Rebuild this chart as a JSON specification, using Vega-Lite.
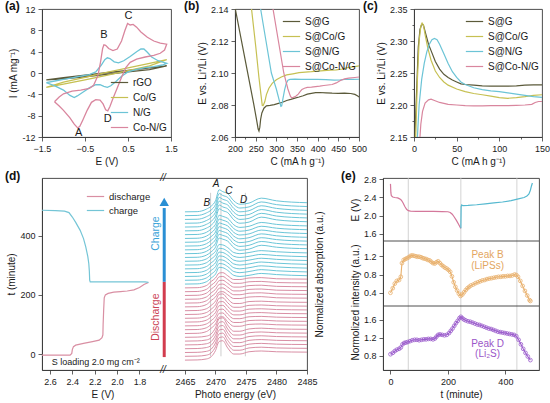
{
  "$schema": "https://vega.github.io/schema/vega-lite/v6.json",
  "padding": {"left": 4, "top": -1, "right": 0, "bottom": 0},
  "spacing": 2,
  "resolve": {"scale": {"color": "independent"}, "legend": {"color": "independent"}},
  "config": {
    "font": "Liberation Sans",
    "view": {"stroke": "#3a3a3a", "strokeWidth": 0.9},
    "axis": {"labelFont": "Liberation Sans", "labelFontSize": 9, "labelColor": "#1a1a1a", "titleFont": "Liberation Sans", "titleFontSize": 10, "titleFontWeight": "normal", "titleColor": "#1a1a1a", "domainColor": "#3a3a3a", "tickColor": "#3a3a3a", "domainWidth": 0.9, "tickWidth": 0.8, "grid": false, "tickSize": 4, "labelPadding": 3, "titlePadding": 3, "labelOverlap": false, "labelFlush": false},
    "legend": {"labelFont": "Liberation Sans", "labelFontSize": 10, "labelColor": "#1a1a1a", "symbolType": "stroke", "symbolSize": 300, "symbolStrokeWidth": 1.5, "rowPadding": 0, "padding": 0, "labelOffset": 4},
    "title": {"font": "Liberation Sans", "fontSize": 12, "fontWeight": "bold", "color": "#111111", "anchor": "start", "frame": "group", "baseline": "alphabetic", "offset": 0},
    "text": {"font": "Liberation Sans", "color": "#1a1a1a"},
    "line": {"strokeWidth": 1.2}
  },
  "vconcat": [
    {
      "spacing": 0,
      "bounds": "flush",
      "resolve": {"scale": {"color": "independent"}, "legend": {"color": "independent"}},
      "hconcat": [
        {
          "width": 129, "height": 128,
          "title": {"text": "(a)", "dx": -37, "dy": 8, "offset": 0},
          "resolve": {"axis": {"y": "independent"}},
          "layer": [
            {
              "data": {"values": [
                {"s":"rGO","i":0,"E":-1.4,"I":-1.3},{"s":"rGO","i":1,"E":-1.0,"I":-0.85},{"s":"rGO","i":2,"E":-0.5,"I":-0.4},{"s":"rGO","i":3,"E":0,"I":0.05},{"s":"rGO","i":4,"E":0.5,"I":0.5},{"s":"rGO","i":5,"E":1.0,"I":0.95},{"s":"rGO","i":6,"E":1.4,"I":1.35},{"s":"rGO","i":7,"E":1.0,"I":0.65},{"s":"rGO","i":8,"E":0.5,"I":0.2},{"s":"rGO","i":9,"E":0,"I":-0.25},{"s":"rGO","i":10,"E":-0.5,"I":-0.7},{"s":"rGO","i":11,"E":-1.0,"I":-1.1},{"s":"rGO","i":12,"E":-1.4,"I":-1.3},
                {"s":"Co/G","i":0,"E":-1.4,"I":-2.7},{"s":"Co/G","i":1,"E":-1.0,"I":-1.7},{"s":"Co/G","i":2,"E":-0.5,"I":-0.8},{"s":"Co/G","i":3,"E":0,"I":0.1},{"s":"Co/G","i":4,"E":0.5,"I":0.95},{"s":"Co/G","i":5,"E":1.0,"I":1.8},{"s":"Co/G","i":6,"E":1.4,"I":2.5},{"s":"Co/G","i":7,"E":1.0,"I":1.35},{"s":"Co/G","i":8,"E":0.5,"I":0.45},{"s":"Co/G","i":9,"E":0,"I":-0.45},{"s":"Co/G","i":10,"E":-0.5,"I":-1.3},{"s":"Co/G","i":11,"E":-1.0,"I":-2.1},{"s":"Co/G","i":12,"E":-1.4,"I":-2.7},
                {"s":"N/G","i":0,"E":-1.4,"I":-1.8},{"s":"N/G","i":1,"E":-1.2,"I":-1.5},{"s":"N/G","i":2,"E":-1.0,"I":-1.2},{"s":"N/G","i":3,"E":-0.8,"I":-0.9},{"s":"N/G","i":4,"E":-0.6,"I":-0.6},{"s":"N/G","i":5,"E":-0.4,"I":-0.3},{"s":"N/G","i":6,"E":-0.25,"I":0.2},{"s":"N/G","i":7,"E":-0.12,"I":1.5},{"s":"N/G","i":8,"E":-0.04,"I":2.5},{"s":"N/G","i":9,"E":0.02,"I":2.85},{"s":"N/G","i":10,"E":0.08,"I":2.7},{"s":"N/G","i":11,"E":0.18,"I":2.1},{"s":"N/G","i":12,"E":0.28,"I":1.9},{"s":"N/G","i":13,"E":0.4,"I":2.3},{"s":"N/G","i":14,"E":0.55,"I":3.1},{"s":"N/G","i":15,"E":0.7,"I":4.0},{"s":"N/G","i":16,"E":0.8,"I":4.5},{"s":"N/G","i":17,"E":0.87,"I":4.5},{"s":"N/G","i":18,"E":0.95,"I":3.9},{"s":"N/G","i":19,"E":1.05,"I":3.0},{"s":"N/G","i":20,"E":1.2,"I":2.3},{"s":"N/G","i":21,"E":1.4,"I":1.8},{"s":"N/G","i":22,"E":1.3,"I":1.5},{"s":"N/G","i":23,"E":1.1,"I":1.2},{"s":"N/G","i":24,"E":0.9,"I":1.0},{"s":"N/G","i":25,"E":0.7,"I":0.7},{"s":"N/G","i":26,"E":0.5,"I":0.2},{"s":"N/G","i":27,"E":0.35,"I":-0.6},{"s":"N/G","i":28,"E":0.22,"I":-1.6},{"s":"N/G","i":29,"E":0.1,"I":-2.4},{"s":"N/G","i":30,"E":0.02,"I":-2.7},{"s":"N/G","i":31,"E":-0.06,"I":-2.5},{"s":"N/G","i":32,"E":-0.15,"I":-2.2},{"s":"N/G","i":33,"E":-0.25,"I":-2.2},{"s":"N/G","i":34,"E":-0.4,"I":-2.8},{"s":"N/G","i":35,"E":-0.55,"I":-3.6},{"s":"N/G","i":36,"E":-0.68,"I":-4.3},{"s":"N/G","i":37,"E":-0.75,"I":-4.6},{"s":"N/G","i":38,"E":-0.85,"I":-4.2},{"s":"N/G","i":39,"E":-1.0,"I":-3.2},{"s":"N/G","i":40,"E":-1.2,"I":-2.4},{"s":"N/G","i":41,"E":-1.4,"I":-1.8},
                {"s":"Co-N/G","i":0,"E":-1.21,"I":-5.4},{"s":"Co-N/G","i":1,"E":-1.1,"I":-4.5},{"s":"Co-N/G","i":2,"E":-1.0,"I":-3.9},{"s":"Co-N/G","i":3,"E":-0.8,"I":-3.4},{"s":"Co-N/G","i":4,"E":-0.6,"I":-3.2},{"s":"Co-N/G","i":5,"E":-0.4,"I":-2.9},{"s":"Co-N/G","i":6,"E":-0.3,"I":-2.3},{"s":"Co-N/G","i":7,"E":-0.2,"I":-0.5},{"s":"Co-N/G","i":8,"E":-0.14,"I":2.0},{"s":"Co-N/G","i":9,"E":-0.09,"I":4.6},{"s":"Co-N/G","i":10,"E":-0.06,"I":5.3},{"s":"Co-N/G","i":11,"E":-0.02,"I":5.2},{"s":"Co-N/G","i":12,"E":0.05,"I":4.6},{"s":"Co-N/G","i":13,"E":0.15,"I":4.2},{"s":"Co-N/G","i":14,"E":0.25,"I":4.5},{"s":"Co-N/G","i":15,"E":0.35,"I":6.0},{"s":"Co-N/G","i":16,"E":0.43,"I":8.0},{"s":"Co-N/G","i":17,"E":0.49,"I":9.3},{"s":"Co-N/G","i":18,"E":0.55,"I":9.0},{"s":"Co-N/G","i":19,"E":0.62,"I":9.1},{"s":"Co-N/G","i":20,"E":0.7,"I":8.6},{"s":"Co-N/G","i":21,"E":0.8,"I":7.7},{"s":"Co-N/G","i":22,"E":0.95,"I":6.7},{"s":"Co-N/G","i":23,"E":1.1,"I":6.0},{"s":"Co-N/G","i":24,"E":1.25,"I":5.6},{"s":"Co-N/G","i":25,"E":1.4,"I":5.4},{"s":"Co-N/G","i":26,"E":1.35,"I":4.3},{"s":"Co-N/G","i":27,"E":1.25,"I":3.7},{"s":"Co-N/G","i":28,"E":1.1,"I":3.3},{"s":"Co-N/G","i":29,"E":0.9,"I":3.0},{"s":"Co-N/G","i":30,"E":0.7,"I":2.6},{"s":"Co-N/G","i":31,"E":0.55,"I":2.0},{"s":"Co-N/G","i":32,"E":0.45,"I":1.0},{"s":"Co-N/G","i":33,"E":0.35,"I":-0.8},{"s":"Co-N/G","i":34,"E":0.25,"I":-2.8},{"s":"Co-N/G","i":35,"E":0.15,"I":-4.8},{"s":"Co-N/G","i":36,"E":0.08,"I":-6.3},{"s":"Co-N/G","i":37,"E":0.03,"I":-7.1},{"s":"Co-N/G","i":38,"E":-0.02,"I":-6.9},{"s":"Co-N/G","i":39,"E":-0.08,"I":-5.8},{"s":"Co-N/G","i":40,"E":-0.15,"I":-5.1},{"s":"Co-N/G","i":41,"E":-0.25,"I":-5.0},{"s":"Co-N/G","i":42,"E":-0.35,"I":-5.5},{"s":"Co-N/G","i":43,"E":-0.45,"I":-7.0},{"s":"Co-N/G","i":44,"E":-0.55,"I":-8.8},{"s":"Co-N/G","i":45,"E":-0.62,"I":-10.0},{"s":"Co-N/G","i":46,"E":-0.67,"I":-10.3},{"s":"Co-N/G","i":47,"E":-0.75,"I":-9.6},{"s":"Co-N/G","i":48,"E":-0.85,"I":-8.4},{"s":"Co-N/G","i":49,"E":-1.0,"I":-7.0},{"s":"Co-N/G","i":50,"E":-1.1,"I":-6.2},{"s":"Co-N/G","i":51,"E":-1.21,"I":-5.4}
              ]},
              "mark": {"type": "line", "strokeWidth": 1.3},
              "encoding": {
                "x": {"field": "E", "type": "quantitative", "scale": {"domain": [-1.5, 1.5], "nice": false, "zero": false},
                  "axis": {"title": "E (V)", "labelOverlap": false, "values": [-1.5,-1.25,-1,-0.75,-0.5,-0.25,0,0.25,0.5,0.75,1,1.25,1.5], "format": ".1f", "labelExpr": "datum.value % 0.5 === 0 ? datum.label : ''", "tickSize": {"condition": {"test": "datum.value % 0.5 === 0", "value": 4}, "value": 2}}},
                "y": {"field": "I", "type": "quantitative", "scale": {"domain": [-12, 12], "nice": false, "zero": false},
                  "axis": {"orient": "left", "title": "I (mA mg⁻¹)", "labelOverlap": false, "values": [-12,-4,4,12], "labelExpr": "(datum.value < 0 ? '-' : '') + abs(datum.value)"}},
                "color": {"field": "s", "type": "nominal", "scale": {"domain": ["rGO", "Co/G", "N/G", "Co-N/G"], "range": ["#5b5a3a", "#c6c052", "#6cc4d6", "#d9869e"]}, "legend": {"title": null, "orient": "bottom-right", "offset": 4}},
                "order": {"field": "i", "type": "quantitative"}
              }
            },
            {
              "data": {"values": [{"p":"A","E":-0.65,"I":-11.3},{"p":"B","E":-0.06,"I":7.1},{"p":"C","E":0.51,"I":10.7},{"p":"D","E":0.03,"I":-8.6}]},
              "mark": {"type": "text", "fontSize": 11},
              "encoding": {
                "x": {"field": "E", "type": "quantitative", "scale": {"domain": [-1.5, 1.5], "nice": false, "zero": false}},
                "y": {"field": "I", "type": "quantitative", "scale": {"domain": [-12, 12], "nice": false, "zero": false},
                  "axis": {"orient": "left", "title": null, "domain": false, "labelOverlap": false, "values": [-8,0,8], "labelExpr": "(datum.value < 0 ? '-' : '') + abs(datum.value)"}},
                "text": {"field": "p"}
              }
            }
          ]
        },
        {"width": 64, "height": 128, "data": {"values": []}, "mark": "point", "view": {"stroke": null}},
        {
          "width": 124, "height": 128,
          "title": {"text": "(b)", "dx": -51, "dy": 8, "offset": 0},
          "data": {"values": [
            {"s":"S@G","C":200,"V":2.141},{"s":"S@G","C":215,"V":2.121},{"s":"S@G","C":230,"V":2.101},{"s":"S@G","C":245,"V":2.081},{"s":"S@G","C":252,"V":2.071},{"s":"S@G","C":256,"V":2.065},{"s":"S@G","C":258,"V":2.0637},{"s":"S@G","C":260,"V":2.066},{"s":"S@G","C":262,"V":2.071},{"s":"S@G","C":265,"V":2.075},{"s":"S@G","C":270,"V":2.078},{"s":"S@G","C":276,"V":2.0795},{"s":"S@G","C":285,"V":2.0798},{"s":"S@G","C":295,"V":2.0802},{"s":"S@G","C":305,"V":2.081},{"s":"S@G","C":315,"V":2.0817},{"s":"S@G","C":325,"V":2.0828},{"s":"S@G","C":335,"V":2.0835},{"s":"S@G","C":345,"V":2.0843},{"s":"S@G","C":355,"V":2.085},{"s":"S@G","C":365,"V":2.0858},{"s":"S@G","C":375,"V":2.0868},{"s":"S@G","C":385,"V":2.0873},{"s":"S@G","C":395,"V":2.0877},{"s":"S@G","C":405,"V":2.0878},{"s":"S@G","C":420,"V":2.0876},{"s":"S@G","C":435,"V":2.0874},{"s":"S@G","C":450,"V":2.0873},{"s":"S@G","C":465,"V":2.0874},{"s":"S@G","C":480,"V":2.0872},{"s":"S@G","C":490,"V":2.0866},{"s":"S@G","C":497,"V":2.0856},{"s":"S@G","C":500,"V":2.085},
            {"s":"S@Co/G","C":240,"V":2.14},{"s":"S@Co/G","C":250,"V":2.117},{"s":"S@Co/G","C":258,"V":2.097},{"s":"S@Co/G","C":263,"V":2.086},{"s":"S@Co/G","C":266,"V":2.0797},{"s":"S@Co/G","C":268,"V":2.0796},{"s":"S@Co/G","C":272,"V":2.082},{"s":"S@Co/G","C":276,"V":2.0865},{"s":"S@Co/G","C":282,"V":2.0905},{"s":"S@Co/G","C":290,"V":2.0935},{"s":"S@Co/G","C":300,"V":2.0958},{"s":"S@Co/G","C":312,"V":2.0975},{"s":"S@Co/G","C":325,"V":2.0988},{"s":"S@Co/G","C":340,"V":2.0995},{"s":"S@Co/G","C":355,"V":2.1002},{"s":"S@Co/G","C":370,"V":2.1005},{"s":"S@Co/G","C":385,"V":2.1008},{"s":"S@Co/G","C":400,"V":2.1012},{"s":"S@Co/G","C":415,"V":2.1015},{"s":"S@Co/G","C":430,"V":2.1018},{"s":"S@Co/G","C":445,"V":2.102},{"s":"S@Co/G","C":460,"V":2.1025},{"s":"S@Co/G","C":475,"V":2.1035},{"s":"S@Co/G","C":490,"V":2.104},{"s":"S@Co/G","C":500,"V":2.1045},
            {"s":"S@N/G","C":262,"V":2.14},{"s":"S@N/G","C":275,"V":2.12},{"s":"S@N/G","C":288,"V":2.1},{"s":"S@N/G","C":300,"V":2.09},{"s":"S@N/G","C":308,"V":2.082},{"s":"S@N/G","C":311,"V":2.0792},{"s":"S@N/G","C":313,"V":2.0795},{"s":"S@N/G","C":316,"V":2.084},{"s":"S@N/G","C":320,"V":2.0895},{"s":"S@N/G","C":324,"V":2.0935},{"s":"S@N/G","C":328,"V":2.0955},{"s":"S@N/G","C":333,"V":2.096},{"s":"S@N/G","C":345,"V":2.0962},{"s":"S@N/G","C":360,"V":2.096},{"s":"S@N/G","C":380,"V":2.0961},{"s":"S@N/G","C":400,"V":2.096},{"s":"S@N/G","C":420,"V":2.0958},{"s":"S@N/G","C":440,"V":2.0955},{"s":"S@N/G","C":455,"V":2.0957},{"s":"S@N/G","C":470,"V":2.0961},{"s":"S@N/G","C":485,"V":2.096},{"s":"S@N/G","C":500,"V":2.0961},
            {"s":"S@Co-N/G","C":292,"V":2.14},{"s":"S@Co-N/G","C":305,"V":2.12},{"s":"S@Co-N/G","C":318,"V":2.1},{"s":"S@Co-N/G","C":328,"V":2.09},{"s":"S@Co-N/G","C":334,"V":2.0855},{"s":"S@Co-N/G","C":337,"V":2.0845},{"s":"S@Co-N/G","C":341,"V":2.0848},{"s":"S@Co-N/G","C":347,"V":2.0855},{"s":"S@Co-N/G","C":353,"V":2.0868},{"s":"S@Co-N/G","C":358,"V":2.0885},{"s":"S@Co-N/G","C":362,"V":2.0897},{"s":"S@Co-N/G","C":368,"V":2.0905},{"s":"S@Co-N/G","C":375,"V":2.091},{"s":"S@Co-N/G","C":385,"V":2.0912},{"s":"S@Co-N/G","C":395,"V":2.0915},{"s":"S@Co-N/G","C":405,"V":2.0918},{"s":"S@Co-N/G","C":415,"V":2.0922},{"s":"S@Co-N/G","C":425,"V":2.0925},{"s":"S@Co-N/G","C":435,"V":2.0928},{"s":"S@Co-N/G","C":445,"V":2.0938},{"s":"S@Co-N/G","C":455,"V":2.0953},{"s":"S@Co-N/G","C":465,"V":2.0963},{"s":"S@Co-N/G","C":475,"V":2.0968},{"s":"S@Co-N/G","C":490,"V":2.0972},{"s":"S@Co-N/G","C":500,"V":2.0975}
          ]},
          "mark": {"type": "line", "strokeWidth": 1.2, "clip": true},
          "encoding": {
            "x": {"field": "C", "type": "quantitative", "scale": {"domain": [200, 500], "nice": false, "zero": false},
              "axis": {"title": "C (mA h g⁻¹)", "labelOverlap": false, "values": [200,225,250,275,300,325,350,375,400,425,450,475,500], "labelExpr": "datum.value % 50 === 0 ? datum.label : ''", "tickSize": {"condition": {"test": "datum.value % 50 === 0", "value": 4}, "value": 2}}},
            "y": {"field": "V", "type": "quantitative", "scale": {"domain": [2.06, 2.14], "nice": false, "zero": false},
              "axis": {"title": "E vs. Li⁺/Li (V)", "labelOverlap": false, "values": [2.06,2.08,2.1,2.12,2.14], "format": ".2f"}},
            "color": {"field": "s", "type": "nominal", "scale": {"domain": ["S@G", "S@Co/G", "S@N/G", "S@Co-N/G"], "range": ["#5b5a3a", "#c6c052", "#6cc4d6", "#d9869e"]}, "legend": {"title": null, "orient": "top-right", "offset": 3}}
          }
        },
        {"width": 55, "height": 128, "data": {"values": []}, "mark": "point", "view": {"stroke": null}},
        {
          "width": 128, "height": 128,
          "title": {"text": "(c)", "dx": -51, "dy": 8, "offset": 0},
          "data": {"values": [
            {"s":"S@G","C":1,"V":2.15},{"s":"S@G","C":3,"V":2.22},{"s":"S@G","C":5,"V":2.29},{"s":"S@G","C":7,"V":2.318},{"s":"S@G","C":9,"V":2.326},{"s":"S@G","C":11,"V":2.325},{"s":"S@G","C":14,"V":2.31},{"s":"S@G","C":17,"V":2.295},{"s":"S@G","C":20,"V":2.285},{"s":"S@G","C":25,"V":2.268},{"s":"S@G","C":30,"V":2.256},{"s":"S@G","C":35,"V":2.248},{"s":"S@G","C":40,"V":2.243},{"s":"S@G","C":45,"V":2.239},{"s":"S@G","C":50,"V":2.236},{"s":"S@G","C":55,"V":2.233},{"s":"S@G","C":60,"V":2.232},{"s":"S@G","C":70,"V":2.231},{"s":"S@G","C":80,"V":2.23},{"s":"S@G","C":90,"V":2.2295},{"s":"S@G","C":100,"V":2.2295},{"s":"S@G","C":110,"V":2.2295},{"s":"S@G","C":120,"V":2.23},{"s":"S@G","C":130,"V":2.231},{"s":"S@G","C":140,"V":2.2315},{"s":"S@G","C":150,"V":2.2315},
            {"s":"S@Co/G","C":2,"V":2.15},{"s":"S@Co/G","C":4,"V":2.24},{"s":"S@Co/G","C":6,"V":2.3},{"s":"S@Co/G","C":8,"V":2.323},{"s":"S@Co/G","C":9.5,"V":2.328},{"s":"S@Co/G","C":11,"V":2.325},{"s":"S@Co/G","C":13,"V":2.31},{"s":"S@Co/G","C":16,"V":2.29},{"s":"S@Co/G","C":20,"V":2.27},{"s":"S@Co/G","C":25,"V":2.253},{"s":"S@Co/G","C":30,"V":2.243},{"s":"S@Co/G","C":35,"V":2.236},{"s":"S@Co/G","C":40,"V":2.231},{"s":"S@Co/G","C":50,"V":2.225},{"s":"S@Co/G","C":60,"V":2.221},{"s":"S@Co/G","C":70,"V":2.218},{"s":"S@Co/G","C":80,"V":2.216},{"s":"S@Co/G","C":90,"V":2.214},{"s":"S@Co/G","C":100,"V":2.2115},{"s":"S@Co/G","C":110,"V":2.2105},{"s":"S@Co/G","C":120,"V":2.2115},{"s":"S@Co/G","C":130,"V":2.213},{"s":"S@Co/G","C":140,"V":2.215},{"s":"S@Co/G","C":150,"V":2.216},
            {"s":"S@N/G","C":4,"V":2.15},{"s":"S@N/G","C":6,"V":2.2},{"s":"S@N/G","C":9,"V":2.24},{"s":"S@N/G","C":12,"V":2.265},{"s":"S@N/G","C":15,"V":2.283},{"s":"S@N/G","C":18,"V":2.295},{"s":"S@N/G","C":21,"V":2.302},{"s":"S@N/G","C":24,"V":2.304},{"s":"S@N/G","C":27,"V":2.302},{"s":"S@N/G","C":30,"V":2.295},{"s":"S@N/G","C":35,"V":2.28},{"s":"S@N/G","C":40,"V":2.265},{"s":"S@N/G","C":45,"V":2.252},{"s":"S@N/G","C":50,"V":2.243},{"s":"S@N/G","C":55,"V":2.236},{"s":"S@N/G","C":60,"V":2.232},{"s":"S@N/G","C":70,"V":2.227},{"s":"S@N/G","C":80,"V":2.224},{"s":"S@N/G","C":90,"V":2.222},{"s":"S@N/G","C":100,"V":2.221},{"s":"S@N/G","C":110,"V":2.219},{"s":"S@N/G","C":120,"V":2.217},{"s":"S@N/G","C":130,"V":2.215},{"s":"S@N/G","C":140,"V":2.213},{"s":"S@N/G","C":150,"V":2.212},
            {"s":"S@Co-N/G","C":7,"V":2.15},{"s":"S@Co-N/G","C":8,"V":2.17},{"s":"S@Co-N/G","C":10,"V":2.19},{"s":"S@Co-N/G","C":13,"V":2.203},{"s":"S@Co-N/G","C":17,"V":2.208},{"s":"S@Co-N/G","C":20,"V":2.209},{"s":"S@Co-N/G","C":24,"V":2.207},{"s":"S@Co-N/G","C":30,"V":2.204},{"s":"S@Co-N/G","C":40,"V":2.201},{"s":"S@Co-N/G","C":50,"V":2.2},{"s":"S@Co-N/G","C":60,"V":2.199},{"s":"S@Co-N/G","C":70,"V":2.1985},{"s":"S@Co-N/G","C":80,"V":2.1985},{"s":"S@Co-N/G","C":90,"V":2.199},{"s":"S@Co-N/G","C":100,"V":2.199},{"s":"S@Co-N/G","C":110,"V":2.199},{"s":"S@Co-N/G","C":120,"V":2.1995},{"s":"S@Co-N/G","C":130,"V":2.2},{"s":"S@Co-N/G","C":138,"V":2.201},{"s":"S@Co-N/G","C":142,"V":2.204},{"s":"S@Co-N/G","C":146,"V":2.2055},{"s":"S@Co-N/G","C":150,"V":2.2055}
          ]},
          "mark": {"type": "line", "strokeWidth": 1.2, "clip": true},
          "encoding": {
            "x": {"field": "C", "type": "quantitative", "scale": {"domain": [0, 150], "nice": false, "zero": false},
              "axis": {"title": "C (mA h g⁻¹)", "labelOverlap": false, "values": [0,25,50,75,100,125,150], "labelExpr": "datum.value % 50 === 0 ? datum.label : ''", "tickSize": {"condition": {"test": "datum.value % 50 === 0", "value": 4}, "value": 2}}},
            "y": {"field": "V", "type": "quantitative", "scale": {"domain": [2.15, 2.35], "nice": false, "zero": false},
              "axis": {"title": "E vs. Li⁺/Li (V)", "labelOverlap": false, "values": [2.15,2.175,2.2,2.225,2.25,2.275,2.3,2.325,2.35], "format": ".2f", "labelExpr": "round(datum.value*1000) % 50 === 0 ? datum.label : ''", "tickSize": {"condition": {"test": "round(datum.value*1000) % 50 === 0", "value": 4}, "value": 2}}},
            "color": {"field": "s", "type": "nominal", "scale": {"domain": ["S@G", "S@Co/G", "S@N/G", "S@Co-N/G"], "range": ["#5b5a3a", "#c6c052", "#6cc4d6", "#d9869e"]}, "legend": {"title": null, "orient": "top-right", "offset": 3}}
          }
        }
      ]
    },
    {
      "spacing": 0,
      "bounds": "flush",
      "resolve": {"scale": {"color": "independent"}, "legend": {"color": "independent"}},
      "hconcat": [
        {
          "width": 265, "height": 192,
          "title": {"text": "(d)", "dx": -37, "dy": 10, "offset": 0},
          "resolve": {"scale": {"x": "independent", "y": "independent", "color": "independent"}, "axis": {"x": "independent", "y": "independent"}, "legend": {"color": "independent"}},
          "layer": [
            {
              "layer": [
                {
                  "data": {"values": [
                    {"ph":"discharge","i":0,"E":2.671,"t":-4},{"ph":"discharge","i":1,"E":2.42,"t":-4},{"ph":"discharge","i":2,"E":2.405,"t":2},{"ph":"discharge","i":3,"E":2.4,"t":15},{"ph":"discharge","i":4,"E":2.39,"t":25},{"ph":"discharge","i":5,"E":2.37,"t":30},{"ph":"discharge","i":6,"E":2.3,"t":36},{"ph":"discharge","i":7,"E":2.22,"t":42},{"ph":"discharge","i":8,"E":2.16,"t":47},{"ph":"discharge","i":9,"E":2.135,"t":55},{"ph":"discharge","i":10,"E":2.127,"t":65},{"ph":"discharge","i":11,"E":2.125,"t":100},{"ph":"discharge","i":12,"E":2.12,"t":150},{"ph":"discharge","i":13,"E":2.115,"t":190},{"ph":"discharge","i":14,"E":2.105,"t":200},{"ph":"discharge","i":15,"E":2.08,"t":205},{"ph":"discharge","i":16,"E":2.03,"t":209},{"ph":"discharge","i":17,"E":1.97,"t":211},{"ph":"discharge","i":18,"E":1.91,"t":213},{"ph":"discharge","i":19,"E":1.85,"t":217},{"ph":"discharge","i":20,"E":1.8,"t":225},{"ph":"discharge","i":21,"E":1.76,"t":235},{"ph":"discharge","i":22,"E":1.72,"t":242},
                    {"ph":"charge","i":0,"E":1.72,"t":242},{"ph":"charge","i":1,"E":1.75,"t":244},{"ph":"charge","i":2,"E":2.24,"t":244},{"ph":"charge","i":3,"E":2.245,"t":250},{"ph":"charge","i":4,"E":2.248,"t":280},{"ph":"charge","i":5,"E":2.253,"t":306},{"ph":"charge","i":6,"E":2.262,"t":330},{"ph":"charge","i":7,"E":2.28,"t":362},{"ph":"charge","i":8,"E":2.3,"t":390},{"ph":"charge","i":9,"E":2.33,"t":418},{"ph":"charge","i":10,"E":2.37,"t":445},{"ph":"charge","i":11,"E":2.4,"t":463},{"ph":"charge","i":12,"E":2.43,"t":478},{"ph":"charge","i":13,"E":2.47,"t":483},{"ph":"charge","i":14,"E":2.55,"t":485},{"ph":"charge","i":15,"E":2.671,"t":486}
                  ]},
                  "mark": {"type": "line", "strokeWidth": 1.2},
                  "encoding": {
                    "x": {"field": "E", "type": "quantitative", "scale": {"domain": [2.671, 1.59], "range": [0, 121], "nice": false, "zero": false},
                      "axis": {"orient": "bottom", "title": "E (V)", "labelOverlap": false, "values": [2.6,2.5,2.4,2.3,2.2,2.1,2.0,1.9,1.8,1.7], "format": ".1f", "labelExpr": "round(datum.value*10) % 2 === 0 ? datum.label : ''", "tickSize": {"condition": {"test": "round(datum.value*10) % 2 === 0", "value": 4}, "value": 2}}},
                    "y": {"field": "t", "type": "quantitative", "scale": {"domain": [-54, 595], "nice": false, "zero": false},
                      "axis": {"orient": "left", "title": "t (minute)", "labelOverlap": false, "values": [0,100,200,300,400,500]}},
                    "color": {"field": "ph", "type": "nominal", "scale": {"domain": ["discharge", "charge"], "range": ["#d98fa3", "#74c5d6"]}, "legend": {"title": null, "orient": "none", "legendX": 44, "legendY": 9, "labelFontSize": 9.5}},
                    "order": {"field": "i", "type": "quantitative"}
                  }
                },
                {
                  "data": {"values": [{"E": 1.59, "t": 595}, {"E": 1.59, "t": -54}]},
                  "mark": {"type": "text", "text": "//", "fontSize": 10, "fontStyle": "italic", "baseline": "middle"},
                  "encoding": {
                    "x": {"field": "E", "type": "quantitative", "scale": {"domain": [2.671, 1.59], "range": [0, 121], "nice": false, "zero": false}},
                    "y": {"field": "t", "type": "quantitative", "scale": {"domain": [-54, 595], "nice": false, "zero": false}}
                  }
                },
                {
                  "data": {"values": [{"E": 2.19, "t": -28, "l": "S loading 2.0 mg cm⁻²"}]},
                  "mark": {"type": "text", "fontSize": 9},
                  "encoding": {
                    "x": {"field": "E", "type": "quantitative", "scale": {"domain": [2.671, 1.59], "range": [0, 121], "nice": false, "zero": false}},
                    "y": {"field": "t", "type": "quantitative", "scale": {"domain": [-54, 595], "nice": false, "zero": false}},
                    "text": {"field": "l"}
                  }
                }
              ]
            },
            {
              "layer": [
                {
                  "data": {"values": [{"e": 2469.2}, {"e": 2470.9}, {"e": 2474.9}]},
                  "mark": {"type": "rule", "color": "#b8b8b8", "strokeWidth": 0.7},
                  "encoding": {
                    "x": {"field": "e", "type": "quantitative", "scale": {"domain": [2461.4, 2485], "range": [121, 265], "nice": false, "zero": false}},
                    "y": {"datum": 1, "type": "quantitative", "scale": {"domain": [-2.6, 47.9], "nice": false, "zero": false}},
                    "y2": {"datum": 44}
                  }
                },
                {
                  "data": {"values": [
                    {"k":0,"e":2465,"a":0},{"k":0,"e":2467,"a":0.05},{"k":0,"e":2468.5,"a":0.3},{"k":0,"e":2469.3,"a":0.9},{"k":0,"e":2470,"a":2.5},{"k":0,"e":2470.6,"a":4.9},{"k":0,"e":2471.2,"a":5.1},{"k":0,"e":2472,"a":3.2},{"k":0,"e":2473,"a":1.6},{"k":0,"e":2474,"a":1.6},{"k":0,"e":2475.5,"a":2.2},{"k":0,"e":2477.5,"a":2.4},{"k":0,"e":2480,"a":2.2},{"k":0,"e":2485,"a":2.1},
                    {"k":1,"e":2465,"a":1},{"k":1,"e":2467,"a":1.05},{"k":1,"e":2468.5,"a":1.3},{"k":1,"e":2469.3,"a":1.9},{"k":1,"e":2470,"a":3.5},{"k":1,"e":2470.6,"a":5.9},{"k":1,"e":2471.2,"a":6.1},{"k":1,"e":2472,"a":4.2},{"k":1,"e":2473,"a":2.6},{"k":1,"e":2474,"a":2.6},{"k":1,"e":2475.5,"a":3.2},{"k":1,"e":2477.5,"a":3.4},{"k":1,"e":2480,"a":3.2},{"k":1,"e":2485,"a":3.1},
                    {"k":2,"e":2465,"a":2},{"k":2,"e":2467,"a":2.05},{"k":2,"e":2468.5,"a":2.3},{"k":2,"e":2469.3,"a":2.9},{"k":2,"e":2470,"a":4.5},{"k":2,"e":2470.6,"a":6.9},{"k":2,"e":2471.2,"a":7.1},{"k":2,"e":2472,"a":5.2},{"k":2,"e":2473,"a":3.6},{"k":2,"e":2474,"a":3.6},{"k":2,"e":2475.5,"a":4.2},{"k":2,"e":2477.5,"a":4.4},{"k":2,"e":2480,"a":4.2},{"k":2,"e":2485,"a":4.1},
                    {"k":3,"e":2465,"a":3},{"k":3,"e":2467,"a":3.05},{"k":3,"e":2468.5,"a":3.3},{"k":3,"e":2469.3,"a":3.9},{"k":3,"e":2470,"a":5.5},{"k":3,"e":2470.6,"a":7.9},{"k":3,"e":2471.2,"a":8.1},{"k":3,"e":2472,"a":6.2},{"k":3,"e":2473,"a":4.6},{"k":3,"e":2474,"a":4.6},{"k":3,"e":2475.5,"a":5.2},{"k":3,"e":2477.5,"a":5.4},{"k":3,"e":2480,"a":5.2},{"k":3,"e":2485,"a":5.1},
                    {"k":4,"e":2465,"a":4},{"k":4,"e":2467,"a":4.05},{"k":4,"e":2468.5,"a":4.3},{"k":4,"e":2469.3,"a":4.9},{"k":4,"e":2470,"a":6.5},{"k":4,"e":2470.6,"a":8.9},{"k":4,"e":2471.2,"a":9.1},{"k":4,"e":2472,"a":7.2},{"k":4,"e":2473,"a":5.6},{"k":4,"e":2474,"a":5.6},{"k":4,"e":2475.5,"a":6.2},{"k":4,"e":2477.5,"a":6.4},{"k":4,"e":2480,"a":6.2},{"k":4,"e":2485,"a":6.1},
                    {"k":5,"e":2465,"a":5},{"k":5,"e":2467,"a":5.05},{"k":5,"e":2468.5,"a":5.3},{"k":5,"e":2469.3,"a":5.9},{"k":5,"e":2470,"a":7.5},{"k":5,"e":2470.6,"a":9.9},{"k":5,"e":2471.2,"a":10.1},{"k":5,"e":2472,"a":8.2},{"k":5,"e":2473,"a":6.6},{"k":5,"e":2474,"a":6.6},{"k":5,"e":2475.5,"a":7.2},{"k":5,"e":2477.5,"a":7.4},{"k":5,"e":2480,"a":7.2},{"k":5,"e":2485,"a":7.1},
                    {"k":6,"e":2465,"a":6},{"k":6,"e":2467,"a":6.05},{"k":6,"e":2468.5,"a":6.3},{"k":6,"e":2469.3,"a":6.9},{"k":6,"e":2470,"a":8.5},{"k":6,"e":2470.6,"a":10.9},{"k":6,"e":2471.2,"a":11.1},{"k":6,"e":2472,"a":9.2},{"k":6,"e":2473,"a":7.6},{"k":6,"e":2474,"a":7.6},{"k":6,"e":2475.5,"a":8.2},{"k":6,"e":2477.5,"a":8.4},{"k":6,"e":2480,"a":8.2},{"k":6,"e":2485,"a":8.1},
                    {"k":7,"e":2465,"a":7},{"k":7,"e":2467,"a":7.05},{"k":7,"e":2468.5,"a":7.5},{"k":7,"e":2469.3,"a":8.4},{"k":7,"e":2470,"a":9.5},{"k":7,"e":2470.6,"a":11.3},{"k":7,"e":2471.2,"a":11.4},{"k":7,"e":2472,"a":10.1},{"k":7,"e":2473,"a":8.9},{"k":7,"e":2474,"a":8.9},{"k":7,"e":2475.5,"a":9.4},{"k":7,"e":2477.5,"a":9.5},{"k":7,"e":2480,"a":9.3},{"k":7,"e":2485,"a":9.2},
                    {"k":8,"e":2465,"a":8},{"k":8,"e":2467,"a":8.05},{"k":8,"e":2468.5,"a":8.5},{"k":8,"e":2469.3,"a":9.4},{"k":8,"e":2470,"a":10.5},{"k":8,"e":2470.6,"a":12.3},{"k":8,"e":2471.2,"a":12.4},{"k":8,"e":2472,"a":11.1},{"k":8,"e":2473,"a":9.9},{"k":8,"e":2474,"a":9.9},{"k":8,"e":2475.5,"a":10.4},{"k":8,"e":2477.5,"a":10.5},{"k":8,"e":2480,"a":10.3},{"k":8,"e":2485,"a":10.2},
                    {"k":9,"e":2465,"a":9},{"k":9,"e":2467,"a":9.05},{"k":9,"e":2468.5,"a":9.5},{"k":9,"e":2469.3,"a":10.4},{"k":9,"e":2470,"a":11.5},{"k":9,"e":2470.6,"a":13.3},{"k":9,"e":2471.2,"a":13.4},{"k":9,"e":2472,"a":12.1},{"k":9,"e":2473,"a":10.9},{"k":9,"e":2474,"a":10.9},{"k":9,"e":2475.5,"a":11.4},{"k":9,"e":2477.5,"a":11.5},{"k":9,"e":2480,"a":11.3},{"k":9,"e":2485,"a":11.2},
                    {"k":10,"e":2465,"a":10},{"k":10,"e":2467,"a":10.05},{"k":10,"e":2468.5,"a":10.5},{"k":10,"e":2469.3,"a":11.4},{"k":10,"e":2470,"a":12.5},{"k":10,"e":2470.6,"a":14.3},{"k":10,"e":2471.2,"a":14.4},{"k":10,"e":2472,"a":13.1},{"k":10,"e":2473,"a":11.9},{"k":10,"e":2474,"a":11.9},{"k":10,"e":2475.5,"a":12.4},{"k":10,"e":2477.5,"a":12.5},{"k":10,"e":2480,"a":12.3},{"k":10,"e":2485,"a":12.2},
                    {"k":11,"e":2465,"a":11},{"k":11,"e":2467,"a":11.05},{"k":11,"e":2468.5,"a":11.5},{"k":11,"e":2469.3,"a":12.4},{"k":11,"e":2470,"a":13.5},{"k":11,"e":2470.6,"a":15.3},{"k":11,"e":2471.2,"a":15.4},{"k":11,"e":2472,"a":14.1},{"k":11,"e":2473,"a":12.9},{"k":11,"e":2474,"a":12.9},{"k":11,"e":2475.5,"a":13.4},{"k":11,"e":2477.5,"a":13.5},{"k":11,"e":2480,"a":13.3},{"k":11,"e":2485,"a":13.2},
                    {"k":12,"e":2465,"a":12},{"k":12,"e":2467,"a":12.05},{"k":12,"e":2468.5,"a":12.5},{"k":12,"e":2469.3,"a":13.4},{"k":12,"e":2470,"a":14.5},{"k":12,"e":2470.6,"a":16.3},{"k":12,"e":2471.2,"a":16.4},{"k":12,"e":2472,"a":15.1},{"k":12,"e":2473,"a":13.9},{"k":12,"e":2474,"a":13.9},{"k":12,"e":2475.5,"a":14.4},{"k":12,"e":2477.5,"a":14.5},{"k":12,"e":2480,"a":14.3},{"k":12,"e":2485,"a":14.2},
                    {"k":13,"e":2465,"a":13},{"k":13,"e":2467,"a":13.05},{"k":13,"e":2468.5,"a":13.5},{"k":13,"e":2469.3,"a":14.4},{"k":13,"e":2470,"a":15.5},{"k":13,"e":2470.6,"a":17.3},{"k":13,"e":2471.2,"a":17.4},{"k":13,"e":2472,"a":16.1},{"k":13,"e":2473,"a":14.9},{"k":13,"e":2474,"a":14.9},{"k":13,"e":2475.5,"a":15.4},{"k":13,"e":2477.5,"a":15.5},{"k":13,"e":2480,"a":15.3},{"k":13,"e":2485,"a":15.2},
                    {"k":14,"e":2465,"a":14},{"k":14,"e":2467,"a":14.05},{"k":14,"e":2468.5,"a":14.6},{"k":14,"e":2469.3,"a":15.7},{"k":14,"e":2470,"a":16.6},{"k":14,"e":2470.6,"a":17.9},{"k":14,"e":2471.2,"a":18},{"k":14,"e":2472,"a":17.2},{"k":14,"e":2473,"a":16.2},{"k":14,"e":2474,"a":16.2},{"k":14,"e":2475.5,"a":16.6},{"k":14,"e":2477.5,"a":16.7},{"k":14,"e":2480,"a":16.4},{"k":14,"e":2485,"a":16.3},
                    {"k":15,"e":2465,"a":15},{"k":15,"e":2467,"a":15.05},{"k":15,"e":2468.5,"a":15.6},{"k":15,"e":2469.3,"a":16.7},{"k":15,"e":2470,"a":17.6},{"k":15,"e":2470.6,"a":18.9},{"k":15,"e":2471.2,"a":19},{"k":15,"e":2472,"a":18.2},{"k":15,"e":2473,"a":17.2},{"k":15,"e":2474,"a":17.2},{"k":15,"e":2475.5,"a":17.6},{"k":15,"e":2477.5,"a":17.7},{"k":15,"e":2480,"a":17.4},{"k":15,"e":2485,"a":17.3},
                    {"k":16,"e":2465,"a":16},{"k":16,"e":2467,"a":16.05},{"k":16,"e":2468.5,"a":16.6},{"k":16,"e":2469.3,"a":17.7},{"k":16,"e":2470,"a":18.6},{"k":16,"e":2470.6,"a":19.9},{"k":16,"e":2471.2,"a":20},{"k":16,"e":2472,"a":19.2},{"k":16,"e":2473,"a":18.2},{"k":16,"e":2474,"a":18.2},{"k":16,"e":2475.5,"a":18.6},{"k":16,"e":2477.5,"a":18.7},{"k":16,"e":2480,"a":18.4},{"k":16,"e":2485,"a":18.3},
                    {"k":17,"e":2465,"a":17},{"k":17,"e":2467,"a":17.05},{"k":17,"e":2468.5,"a":17.6},{"k":17,"e":2469.3,"a":18.7},{"k":17,"e":2470,"a":19.6},{"k":17,"e":2470.6,"a":20.9},{"k":17,"e":2471.2,"a":21},{"k":17,"e":2472,"a":20.2},{"k":17,"e":2473,"a":19.2},{"k":17,"e":2474,"a":19.2},{"k":17,"e":2475.5,"a":19.6},{"k":17,"e":2477.5,"a":19.7},{"k":17,"e":2480,"a":19.4},{"k":17,"e":2485,"a":19.3},
                    {"k":18,"e":2465,"a":18},{"k":18,"e":2467,"a":18.05},{"k":18,"e":2468.5,"a":18.6},{"k":18,"e":2469.3,"a":19.7},{"k":18,"e":2470,"a":20.6},{"k":18,"e":2470.6,"a":21.9},{"k":18,"e":2471.2,"a":22},{"k":18,"e":2472,"a":21.2},{"k":18,"e":2473,"a":20.2},{"k":18,"e":2474,"a":20.2},{"k":18,"e":2475.5,"a":20.6},{"k":18,"e":2477.5,"a":20.7},{"k":18,"e":2480,"a":20.4},{"k":18,"e":2485,"a":20.3},
                    {"k":19,"e":2465,"a":19},{"k":19,"e":2467,"a":19.05},{"k":19,"e":2468.5,"a":19.6},{"k":19,"e":2469.3,"a":20.7},{"k":19,"e":2470,"a":21.6},{"k":19,"e":2470.6,"a":22.9},{"k":19,"e":2471.2,"a":23},{"k":19,"e":2472,"a":22.2},{"k":19,"e":2473,"a":21.2},{"k":19,"e":2474,"a":21.2},{"k":19,"e":2475.5,"a":21.6},{"k":19,"e":2477.5,"a":21.7},{"k":19,"e":2480,"a":21.4},{"k":19,"e":2485,"a":21.3},
                    {"k":20,"e":2465,"a":20},{"k":20,"e":2467,"a":20.05},{"k":20,"e":2468.5,"a":20.6},{"k":20,"e":2469.3,"a":21.6},{"k":20,"e":2470,"a":22.6},{"k":20,"e":2470.6,"a":24.4},{"k":20,"e":2471.2,"a":24.3},{"k":20,"e":2472,"a":23.6},{"k":20,"e":2473,"a":22.3},{"k":20,"e":2474,"a":22},{"k":20,"e":2475.5,"a":22.3},{"k":20,"e":2477.5,"a":22.8},{"k":20,"e":2480,"a":22.5},{"k":20,"e":2485,"a":22.2},
                    {"k":21,"e":2465,"a":21},{"k":21,"e":2467,"a":21.05},{"k":21,"e":2468.5,"a":21.6},{"k":21,"e":2469.3,"a":22.6},{"k":21,"e":2470,"a":23.6},{"k":21,"e":2470.6,"a":25.4},{"k":21,"e":2471.2,"a":25.3},{"k":21,"e":2472,"a":24.6},{"k":21,"e":2473,"a":23.3},{"k":21,"e":2474,"a":23},{"k":21,"e":2475.5,"a":23.3},{"k":21,"e":2477.5,"a":23.8},{"k":21,"e":2480,"a":23.5},{"k":21,"e":2485,"a":23.2},
                    {"k":22,"e":2465,"a":22},{"k":22,"e":2467,"a":22.05},{"k":22,"e":2468.5,"a":22.6},{"k":22,"e":2469.3,"a":23.6},{"k":22,"e":2470,"a":24.6},{"k":22,"e":2470.6,"a":26.4},{"k":22,"e":2471.2,"a":26.3},{"k":22,"e":2472,"a":25.6},{"k":22,"e":2473,"a":24.3},{"k":22,"e":2474,"a":24},{"k":22,"e":2475.5,"a":24.3},{"k":22,"e":2477.5,"a":24.8},{"k":22,"e":2480,"a":24.5},{"k":22,"e":2485,"a":24.2},
                    {"k":23,"e":2465,"a":23},{"k":23,"e":2467,"a":23.05},{"k":23,"e":2468.5,"a":23.6},{"k":23,"e":2469.3,"a":24.6},{"k":23,"e":2470,"a":25.6},{"k":23,"e":2470.6,"a":27.4},{"k":23,"e":2471.2,"a":27.3},{"k":23,"e":2472,"a":26.6},{"k":23,"e":2473,"a":25.3},{"k":23,"e":2474,"a":25},{"k":23,"e":2475.5,"a":25.3},{"k":23,"e":2477.5,"a":25.8},{"k":23,"e":2480,"a":25.5},{"k":23,"e":2485,"a":25.2},
                    {"k":24,"e":2465,"a":24},{"k":24,"e":2467,"a":24.05},{"k":24,"e":2468.5,"a":24.6},{"k":24,"e":2469.3,"a":25.6},{"k":24,"e":2470,"a":26.6},{"k":24,"e":2470.6,"a":28.4},{"k":24,"e":2471.2,"a":28.3},{"k":24,"e":2472,"a":27.6},{"k":24,"e":2473,"a":26.3},{"k":24,"e":2474,"a":26},{"k":24,"e":2475.5,"a":26.3},{"k":24,"e":2477.5,"a":26.8},{"k":24,"e":2480,"a":26.5},{"k":24,"e":2485,"a":26.2},
                    {"k":25,"e":2465,"a":25},{"k":25,"e":2467,"a":25.05},{"k":25,"e":2468.5,"a":25.6},{"k":25,"e":2469.3,"a":26.6},{"k":25,"e":2470,"a":27.6},{"k":25,"e":2470.6,"a":29.4},{"k":25,"e":2471.2,"a":29.3},{"k":25,"e":2472,"a":28.6},{"k":25,"e":2473,"a":27.3},{"k":25,"e":2474,"a":27},{"k":25,"e":2475.5,"a":27.3},{"k":25,"e":2477.5,"a":27.8},{"k":25,"e":2480,"a":27.5},{"k":25,"e":2485,"a":27.2},
                    {"k":26,"e":2465,"a":26},{"k":26,"e":2467,"a":26.05},{"k":26,"e":2468.5,"a":26.6},{"k":26,"e":2469.3,"a":27.6},{"k":26,"e":2470,"a":28.6},{"k":26,"e":2470.6,"a":30.4},{"k":26,"e":2471.2,"a":30.3},{"k":26,"e":2472,"a":29.6},{"k":26,"e":2473,"a":28.3},{"k":26,"e":2474,"a":28},{"k":26,"e":2475.5,"a":28.3},{"k":26,"e":2477.5,"a":28.8},{"k":26,"e":2480,"a":28.5},{"k":26,"e":2485,"a":28.2},
                    {"k":27,"e":2465,"a":27},{"k":27,"e":2467,"a":27.05},{"k":27,"e":2468.5,"a":27.6},{"k":27,"e":2469.3,"a":28.5},{"k":27,"e":2470,"a":29.7},{"k":27,"e":2470.6,"a":32.1},{"k":27,"e":2471.2,"a":31.8},{"k":27,"e":2472,"a":31.3},{"k":27,"e":2473,"a":29.6},{"k":27,"e":2474,"a":28.9},{"k":27,"e":2475.5,"a":29.2},{"k":27,"e":2477.5,"a":30.2},{"k":27,"e":2480,"a":29.7},{"k":27,"e":2485,"a":29.3},
                    {"k":28,"e":2465,"a":28},{"k":28,"e":2467,"a":28.05},{"k":28,"e":2468.5,"a":28.6},{"k":28,"e":2469.3,"a":29.5},{"k":28,"e":2470,"a":30.7},{"k":28,"e":2470.6,"a":33.1},{"k":28,"e":2471.2,"a":32.8},{"k":28,"e":2472,"a":32.3},{"k":28,"e":2473,"a":30.6},{"k":28,"e":2474,"a":29.9},{"k":28,"e":2475.5,"a":30.2},{"k":28,"e":2477.5,"a":31.2},{"k":28,"e":2480,"a":30.7},{"k":28,"e":2485,"a":30.3},
                    {"k":29,"e":2465,"a":29},{"k":29,"e":2467,"a":29.05},{"k":29,"e":2468.5,"a":29.6},{"k":29,"e":2469.3,"a":30.5},{"k":29,"e":2470,"a":31.7},{"k":29,"e":2470.6,"a":34.1},{"k":29,"e":2471.2,"a":33.8},{"k":29,"e":2472,"a":33.3},{"k":29,"e":2473,"a":31.6},{"k":29,"e":2474,"a":30.9},{"k":29,"e":2475.5,"a":31.2},{"k":29,"e":2477.5,"a":32.2},{"k":29,"e":2480,"a":31.7},{"k":29,"e":2485,"a":31.3},
                    {"k":30,"e":2465,"a":30},{"k":30,"e":2467,"a":30.05},{"k":30,"e":2468.5,"a":30.6},{"k":30,"e":2469.3,"a":31.5},{"k":30,"e":2470,"a":32.7},{"k":30,"e":2470.6,"a":35.1},{"k":30,"e":2471.2,"a":34.8},{"k":30,"e":2472,"a":34.3},{"k":30,"e":2473,"a":32.6},{"k":30,"e":2474,"a":31.9},{"k":30,"e":2475.5,"a":32.2},{"k":30,"e":2477.5,"a":33.2},{"k":30,"e":2480,"a":32.7},{"k":30,"e":2485,"a":32.3},
                    {"k":31,"e":2465,"a":31},{"k":31,"e":2467,"a":31.05},{"k":31,"e":2468.5,"a":31.6},{"k":31,"e":2469.3,"a":32.5},{"k":31,"e":2470,"a":33.7},{"k":31,"e":2470.6,"a":36.1},{"k":31,"e":2471.2,"a":35.8},{"k":31,"e":2472,"a":35.3},{"k":31,"e":2473,"a":33.6},{"k":31,"e":2474,"a":32.9},{"k":31,"e":2475.5,"a":33.2},{"k":31,"e":2477.5,"a":34.2},{"k":31,"e":2480,"a":33.7},{"k":31,"e":2485,"a":33.3},
                    {"k":32,"e":2465,"a":32},{"k":32,"e":2467,"a":32.05},{"k":32,"e":2468.5,"a":32.6},{"k":32,"e":2469.3,"a":33.5},{"k":32,"e":2470,"a":34.7},{"k":32,"e":2470.6,"a":37.1},{"k":32,"e":2471.2,"a":36.8},{"k":32,"e":2472,"a":36.3},{"k":32,"e":2473,"a":34.6},{"k":32,"e":2474,"a":33.9},{"k":32,"e":2475.5,"a":34.2},{"k":32,"e":2477.5,"a":35.2},{"k":32,"e":2480,"a":34.7},{"k":32,"e":2485,"a":34.3},
                    {"k":33,"e":2465,"a":33},{"k":33,"e":2467,"a":33.05},{"k":33,"e":2468.5,"a":33.6},{"k":33,"e":2469.3,"a":34.5},{"k":33,"e":2470,"a":35.7},{"k":33,"e":2470.6,"a":38.1},{"k":33,"e":2471.2,"a":37.8},{"k":33,"e":2472,"a":37.3},{"k":33,"e":2473,"a":35.6},{"k":33,"e":2474,"a":34.9},{"k":33,"e":2475.5,"a":35.2},{"k":33,"e":2477.5,"a":36.2},{"k":33,"e":2480,"a":35.7},{"k":33,"e":2485,"a":35.3},
                    {"k":34,"e":2465,"a":34},{"k":34,"e":2467,"a":34.05},{"k":34,"e":2468.5,"a":34.7},{"k":34,"e":2469.3,"a":35.5},{"k":34,"e":2470,"a":36.9},{"k":34,"e":2470.6,"a":39.8},{"k":34,"e":2471.2,"a":39.3},{"k":34,"e":2472,"a":38.8},{"k":34,"e":2473,"a":36.9},{"k":34,"e":2474,"a":36},{"k":34,"e":2475.5,"a":36.3},{"k":34,"e":2477.5,"a":37.6},{"k":34,"e":2480,"a":36.9},{"k":34,"e":2485,"a":36.4},
                    {"k":35,"e":2465,"a":35},{"k":35,"e":2467,"a":35.05},{"k":35,"e":2468.5,"a":35.7},{"k":35,"e":2469.3,"a":36.5},{"k":35,"e":2470,"a":37.9},{"k":35,"e":2470.6,"a":40.8},{"k":35,"e":2471.2,"a":40.3},{"k":35,"e":2472,"a":39.8},{"k":35,"e":2473,"a":37.9},{"k":35,"e":2474,"a":37},{"k":35,"e":2475.5,"a":37.3},{"k":35,"e":2477.5,"a":38.6},{"k":35,"e":2480,"a":37.9},{"k":35,"e":2485,"a":37.4},
                    {"k":36,"e":2465,"a":36},{"k":36,"e":2467,"a":36.05},{"k":36,"e":2468.5,"a":36.7},{"k":36,"e":2469.3,"a":37.5},{"k":36,"e":2470,"a":38.9},{"k":36,"e":2470.6,"a":41.8},{"k":36,"e":2471.2,"a":41.3},{"k":36,"e":2472,"a":40.8},{"k":36,"e":2473,"a":38.9},{"k":36,"e":2474,"a":38},{"k":36,"e":2475.5,"a":38.3},{"k":36,"e":2477.5,"a":39.6},{"k":36,"e":2480,"a":38.9},{"k":36,"e":2485,"a":38.4},
                    {"k":37,"e":2465,"a":37},{"k":37,"e":2467,"a":37.05},{"k":37,"e":2468.5,"a":37.7},{"k":37,"e":2469.3,"a":38.5},{"k":37,"e":2470,"a":39.9},{"k":37,"e":2470.6,"a":42.8},{"k":37,"e":2471.2,"a":42.3},{"k":37,"e":2472,"a":41.8},{"k":37,"e":2473,"a":39.9},{"k":37,"e":2474,"a":39},{"k":37,"e":2475.5,"a":39.3},{"k":37,"e":2477.5,"a":40.6},{"k":37,"e":2480,"a":39.9},{"k":37,"e":2485,"a":39.4},
                    {"k":38,"e":2465,"a":38},{"k":38,"e":2467,"a":38.05},{"k":38,"e":2468.5,"a":38.7},{"k":38,"e":2469.3,"a":39.5},{"k":38,"e":2470,"a":40.9},{"k":38,"e":2470.6,"a":43.8},{"k":38,"e":2471.2,"a":43.3},{"k":38,"e":2472,"a":42.8},{"k":38,"e":2473,"a":40.9},{"k":38,"e":2474,"a":40},{"k":38,"e":2475.5,"a":40.3},{"k":38,"e":2477.5,"a":41.6},{"k":38,"e":2480,"a":40.9},{"k":38,"e":2485,"a":40.4},
                    {"k":39,"e":2465,"a":39},{"k":39,"e":2467,"a":39.05},{"k":39,"e":2468.5,"a":39.7},{"k":39,"e":2469.3,"a":40.5},{"k":39,"e":2470,"a":41.9},{"k":39,"e":2470.6,"a":44.8},{"k":39,"e":2471.2,"a":44.3},{"k":39,"e":2472,"a":43.8},{"k":39,"e":2473,"a":41.9},{"k":39,"e":2474,"a":41},{"k":39,"e":2475.5,"a":41.3},{"k":39,"e":2477.5,"a":42.6},{"k":39,"e":2480,"a":41.9},{"k":39,"e":2485,"a":41.4}
                  ]},
                  "mark": {"type": "line", "strokeWidth": 1, "interpolate": "monotone"},
                  "encoding": {
                    "x": {"field": "e", "type": "quantitative", "scale": {"domain": [2461.4, 2485], "range": [121, 265], "nice": false, "zero": false},
                      "axis": {"orient": "bottom", "title": "Photo energy (eV)", "labelOverlap": false, "values": [2465,2470,2475,2480,2485], "format": "d"}},
                    "y": {"field": "a", "type": "quantitative", "scale": {"domain": [-2.6, 47.9], "nice": false, "zero": false},
                      "axis": {"orient": "right", "title": "Normalized absorption (a.u.)", "labels": false, "ticks": false, "domain": false, "titleAngle": 270, "titleBaseline": "top", "titlePadding": 7, "minExtent": 0}},
                    "detail": {"field": "k", "type": "nominal"},
                    "color": {"condition": {"test": "datum.k < 20", "value": "#d98fa5"}, "value": "#6cc6d8"}
                  }
                },
                {
                  "data": {"values": [{"l":"A","e":2470.1,"a":46.4},{"l":"B","e":2468.6,"a":41.3},{"l":"C","e":2472.2,"a":44.5},{"l":"D","e":2474.6,"a":42.2}]},
                  "mark": {"type": "text", "fontSize": 10, "fontStyle": "italic"},
                  "encoding": {
                    "x": {"field": "e", "type": "quantitative", "scale": {"domain": [2461.4, 2485], "range": [121, 265], "nice": false, "zero": false}},
                    "y": {"field": "a", "type": "quantitative", "scale": {"domain": [-2.6, 47.9], "nice": false, "zero": false}},
                    "text": {"field": "l"}
                  }
                },
                {
                  "data": {"values": [{"ph":"Discharge","e":2461.6,"lo":0.8,"hi":20.6},{"ph":"Charge","e":2461.6,"lo":20.6,"hi":40}]},
                  "mark": {"type": "rule", "strokeWidth": 3},
                  "encoding": {
                    "x": {"field": "e", "type": "quantitative", "scale": {"domain": [2461.4, 2485], "range": [121, 265], "nice": false, "zero": false}},
                    "y": {"field": "lo", "type": "quantitative", "scale": {"domain": [-2.6, 47.9], "nice": false, "zero": false}},
                    "y2": {"field": "hi"},
                    "color": {"condition": {"test": "datum.ph === 'Charge'", "value": "#2a8fd4"}, "value": "#d23c4e"}
                  }
                },
                {
                  "data": {"values": [{"e":2461.6,"a":41.6}]},
                  "mark": {"type": "point", "shape": "triangle-up", "filled": true, "size": 90, "color": "#2a8fd4", "opacity": 1},
                  "encoding": {
                    "x": {"field": "e", "type": "quantitative", "scale": {"domain": [2461.4, 2485], "range": [121, 265], "nice": false, "zero": false}},
                    "y": {"field": "a", "type": "quantitative", "scale": {"domain": [-2.6, 47.9], "nice": false, "zero": false}}
                  }
                },
                {
                  "data": {"values": [{"ph":"Charge","e":2460.2,"a":33.3},{"ph":"Discharge","e":2460.2,"a":11.3}]},
                  "mark": {"type": "text", "angle": 270, "fontSize": 10.5, "baseline": "middle"},
                  "encoding": {
                    "x": {"field": "e", "type": "quantitative", "scale": {"domain": [2461.4, 2485], "range": [121, 265], "nice": false, "zero": false}},
                    "y": {"field": "a", "type": "quantitative", "scale": {"domain": [-2.6, 47.9], "nice": false, "zero": false}},
                    "text": {"field": "ph"},
                    "color": {"condition": {"test": "datum.ph === 'Charge'", "value": "#3aa3d8"}, "value": "#cc4456"}
                  }
                }
              ]
            }
          ]
        },
        {"width": 76, "height": 192, "data": {"values": []}, "mark": "point", "view": {"stroke": null}},
        {
          "width": 156, "height": 192,
          "title": {"text": "(e)", "dx": -42, "dy": 7.5, "offset": 0},
          "resolve": {"scale": {"y": "independent", "color": "independent"}, "axis": {"y": "independent"}},
          "layer": [
            {
              "data": {"values": [{"t": 62}, {"t": 245}, {"t": 440}]},
              "mark": {"type": "rule", "color": "#c8c8c8", "strokeWidth": 0.8},
              "encoding": {
                "x": {"field": "t", "type": "quantitative", "scale": {"domain": [-26, 517], "nice": false, "zero": false}}
              }
            },
            {
              "layer": [
                {
                  "data": {"values": [
                    {"ph":"discharge","t":0,"v":2.7},{"ph":"discharge","t":1.5,"v":2.5},{"ph":"discharge","t":3,"v":2.44},{"ph":"discharge","t":8,"v":2.41},{"ph":"discharge","t":15,"v":2.4},{"ph":"discharge","t":25,"v":2.39},{"ph":"discharge","t":32,"v":2.37},{"ph":"discharge","t":38,"v":2.34},{"ph":"discharge","t":44,"v":2.28},{"ph":"discharge","t":50,"v":2.2},{"ph":"discharge","t":56,"v":2.14},{"ph":"discharge","t":62,"v":2.11},{"ph":"discharge","t":70,"v":2.1},{"ph":"discharge","t":90,"v":2.095},{"ph":"discharge","t":120,"v":2.093},{"ph":"discharge","t":150,"v":2.092},{"ph":"discharge","t":180,"v":2.09},{"ph":"discharge","t":200,"v":2.085},{"ph":"discharge","t":208,"v":2.07},{"ph":"discharge","t":215,"v":2.03},{"ph":"discharge","t":222,"v":1.97},{"ph":"discharge","t":230,"v":1.89},{"ph":"discharge","t":237,"v":1.81},{"ph":"discharge","t":242,"v":1.75},{"ph":"discharge","t":245,"v":1.72},
                    {"ph":"charge","t":245,"v":1.72},{"ph":"charge","t":246,"v":2.2},{"ph":"charge","t":248,"v":2.235},{"ph":"charge","t":252,"v":2.22},{"ph":"charge","t":270,"v":2.225},{"ph":"charge","t":300,"v":2.24},{"ph":"charge","t":330,"v":2.26},{"ph":"charge","t":360,"v":2.28},{"ph":"charge","t":390,"v":2.3},{"ph":"charge","t":420,"v":2.33},{"ph":"charge","t":445,"v":2.37},{"ph":"charge","t":465,"v":2.4},{"ph":"charge","t":475,"v":2.43},{"ph":"charge","t":482,"v":2.48},{"ph":"charge","t":487,"v":2.56},{"ph":"charge","t":491,"v":2.66},{"ph":"charge","t":494,"v":2.72}
                  ]},
                  "mark": {"type": "line", "strokeWidth": 1.2},
                  "encoding": {
                    "x": {"field": "t", "type": "quantitative", "scale": {"domain": [-26, 517], "nice": false, "zero": false}},
                    "y": {"field": "v", "type": "quantitative", "scale": {"domain": [1.44, 2.83], "range": [63, 0], "nice": false, "zero": false},
                      "axis": {"orient": "left", "title": "E (V)", "labelOverlap": false, "values": [1.6,1.8,2.0,2.2,2.4,2.6,2.8], "format": ".1f", "labelExpr": "round(datum.value*10) % 4 === 0 ? datum.label : ''", "tickSize": {"condition": {"test": "round(datum.value*10) % 4 === 0", "value": 4}, "value": 2}}},
                    "color": {"field": "ph", "type": "nominal", "scale": {"domain": ["discharge", "charge"], "range": ["#d4789b", "#56b9d0"]}, "legend": null}
                  }
                },
                {
                  "data": {"values": [{}]},
                  "mark": {"type": "rule", "color": "#3a3a3a", "strokeWidth": 0.9},
                  "encoding": {
                    "y": {"datum": 1.44, "type": "quantitative", "scale": {"domain": [1.44, 2.83], "range": [63, 0], "nice": false, "zero": false}}
                  }
                }
              ]
            },
            {
              "layer": [
                {
                  "data": {"values": [
                    {"t":0,"v":0.4},{"t":8,"v":0.5},{"t":15,"v":0.6},{"t":22,"v":0.66},{"t":30,"v":0.68},{"t":36,"v":0.75},{"t":40,"v":1.05},{"t":46,"v":1.12},{"t":52,"v":1.14},{"t":58,"v":1.16},{"t":64,"v":1.18},{"t":70,"v":1.21},{"t":76,"v":1.22},{"t":82,"v":1.21},{"t":88,"v":1.2},{"t":94,"v":1.19},{"t":100,"v":1.19},{"t":106,"v":1.18},{"t":112,"v":1.16},{"t":118,"v":1.15},{"t":124,"v":1.14},{"t":130,"v":1.12},{"t":136,"v":1.11},{"t":142,"v":1.08},{"t":148,"v":1.05},{"t":154,"v":1.04},{"t":160,"v":1.07},{"t":166,"v":1.09},{"t":172,"v":1.05},{"t":178,"v":1.01},{"t":184,"v":0.98},{"t":190,"v":0.95},{"t":196,"v":0.93},{"t":202,"v":0.9},{"t":208,"v":0.86},{"t":214,"v":0.76},{"t":220,"v":0.63},{"t":226,"v":0.53},{"t":232,"v":0.45},{"t":238,"v":0.38},{"t":244,"v":0.33},{"t":250,"v":0.36},{"t":256,"v":0.41},{"t":262,"v":0.46},{"t":268,"v":0.5},{"t":274,"v":0.53},{"t":280,"v":0.56},{"t":288,"v":0.58},{"t":296,"v":0.61},{"t":304,"v":0.63},{"t":312,"v":0.65},{"t":320,"v":0.67},{"t":328,"v":0.68},{"t":336,"v":0.7},{"t":344,"v":0.71},{"t":352,"v":0.72},{"t":360,"v":0.73},{"t":368,"v":0.74},{"t":376,"v":0.75},{"t":384,"v":0.75},{"t":392,"v":0.76},{"t":400,"v":0.76},{"t":408,"v":0.77},{"t":416,"v":0.77},{"t":424,"v":0.78},{"t":432,"v":0.8},{"t":438,"v":0.79},{"t":444,"v":0.75},{"t":452,"v":0.66},{"t":460,"v":0.55},{"t":468,"v":0.44},{"t":476,"v":0.34},{"t":484,"v":0.24},{"t":487,"v":0.22}
                  ]},
                  "layer": [
                    {"mark": {"type": "line", "color": "#e8b06c", "strokeWidth": 1.1}},
                    {"mark": {"type": "point", "color": "#e8b06c", "filled": false, "size": 14, "strokeWidth": 0.8, "opacity": 1}}
                  ],
                  "encoding": {
                    "x": {"field": "t", "type": "quantitative", "scale": {"domain": [-26, 517], "nice": false, "zero": false}},
                    "y": {"field": "v", "type": "quantitative", "scale": {"domain": [0.11, 1.535], "range": [128, 63], "nice": false, "zero": false},
                      "axis": {"orient": "left", "title": "Normolized intensity (a.u.)", "titleY": 124, "labelOverlap": false, "values": [0.4,0.8,1.2], "format": ".1f"}}
                  }
                },
                {
                  "data": {"values": [{"t":338,"v":1.22,"l":"Peak B"},{"t":338,"v":0.99,"l":"(LiPSs)"}]},
                  "mark": {"type": "text", "fontSize": 10, "color": "#e3a660"},
                  "encoding": {
                    "x": {"field": "t", "type": "quantitative", "scale": {"domain": [-26, 517], "nice": false, "zero": false}},
                    "y": {"field": "v", "type": "quantitative", "scale": {"domain": [0.11, 1.535], "range": [128, 63], "nice": false, "zero": false}},
                    "text": {"field": "l"}
                  }
                },
                {
                  "data": {"values": [{}]},
                  "mark": {"type": "rule", "color": "#3a3a3a", "strokeWidth": 0.9},
                  "encoding": {
                    "y": {"datum": 0.11, "type": "quantitative", "scale": {"domain": [0.11, 1.535], "range": [128, 63], "nice": false, "zero": false}}
                  }
                }
              ]
            },
            {
              "layer": [
                {
                  "data": {"values": [
                    {"t":0,"v":0.83},{"t":8,"v":0.86},{"t":15,"v":0.9},{"t":22,"v":0.93},{"t":30,"v":0.95},{"t":36,"v":0.98},{"t":42,"v":1.05},{"t":48,"v":1.08},{"t":54,"v":1.09},{"t":60,"v":1.1},{"t":68,"v":1.12},{"t":76,"v":1.14},{"t":84,"v":1.15},{"t":92,"v":1.15},{"t":100,"v":1.14},{"t":108,"v":1.15},{"t":116,"v":1.16},{"t":124,"v":1.16},{"t":132,"v":1.17},{"t":140,"v":1.17},{"t":148,"v":1.16},{"t":155,"v":1.18},{"t":160,"v":1.22},{"t":166,"v":1.26},{"t":172,"v":1.27},{"t":180,"v":1.26},{"t":188,"v":1.25},{"t":196,"v":1.26},{"t":204,"v":1.3},{"t":210,"v":1.35},{"t":216,"v":1.4},{"t":222,"v":1.46},{"t":228,"v":1.52},{"t":234,"v":1.57},{"t":240,"v":1.63},{"t":245,"v":1.66},{"t":250,"v":1.63},{"t":256,"v":1.6},{"t":262,"v":1.58},{"t":270,"v":1.56},{"t":278,"v":1.55},{"t":286,"v":1.53},{"t":294,"v":1.51},{"t":302,"v":1.49},{"t":310,"v":1.48},{"t":318,"v":1.46},{"t":326,"v":1.44},{"t":334,"v":1.42},{"t":342,"v":1.4},{"t":350,"v":1.39},{"t":358,"v":1.37},{"t":366,"v":1.35},{"t":374,"v":1.33},{"t":382,"v":1.32},{"t":390,"v":1.31},{"t":398,"v":1.3},{"t":406,"v":1.29},{"t":414,"v":1.28},{"t":422,"v":1.27},{"t":430,"v":1.26},{"t":438,"v":1.23},{"t":446,"v":1.15},{"t":454,"v":1.05},{"t":462,"v":0.95},{"t":470,"v":0.86},{"t":478,"v":0.78},{"t":487,"v":0.7}
                  ]},
                  "layer": [
                    {"mark": {"type": "line", "color": "#9a5ccc", "strokeWidth": 1.1}},
                    {"mark": {"type": "point", "color": "#9a5ccc", "filled": false, "size": 14, "strokeWidth": 0.8, "opacity": 1}}
                  ],
                  "encoding": {
                    "x": {"field": "t", "type": "quantitative", "scale": {"domain": [-26, 517], "nice": false, "zero": false},
                      "axis": {"title": "t (minute)", "labelOverlap": false, "values": [0,50,100,150,200,250,300,350,400,450,500], "labelExpr": "datum.value % 100 === 0 ? datum.label : ''", "tickSize": {"condition": {"test": "datum.value % 100 === 0", "value": 4}, "value": 2}}},
                    "y": {"field": "v", "type": "quantitative", "scale": {"domain": [0.48, 1.9], "range": [192, 128], "nice": false, "zero": false},
                      "axis": {"orient": "left", "title": null, "labelOverlap": false, "values": [0.8,1.2,1.6], "format": ".1f"}}
                  }
                },
                {
                  "data": {"values": [{"t":338,"v":1.06,"l":"Peak D"},{"t":338,"v":0.83,"l":"(Li₂S)"}]},
                  "mark": {"type": "text", "fontSize": 10, "color": "#9a55c8"},
                  "encoding": {
                    "x": {"field": "t", "type": "quantitative", "scale": {"domain": [-26, 517], "nice": false, "zero": false}},
                    "y": {"field": "v", "type": "quantitative", "scale": {"domain": [0.48, 1.9], "range": [192, 128], "nice": false, "zero": false}},
                    "text": {"field": "l"}
                  }
                }
              ]
            }
          ]
        }
      ]
    }
  ]
}
